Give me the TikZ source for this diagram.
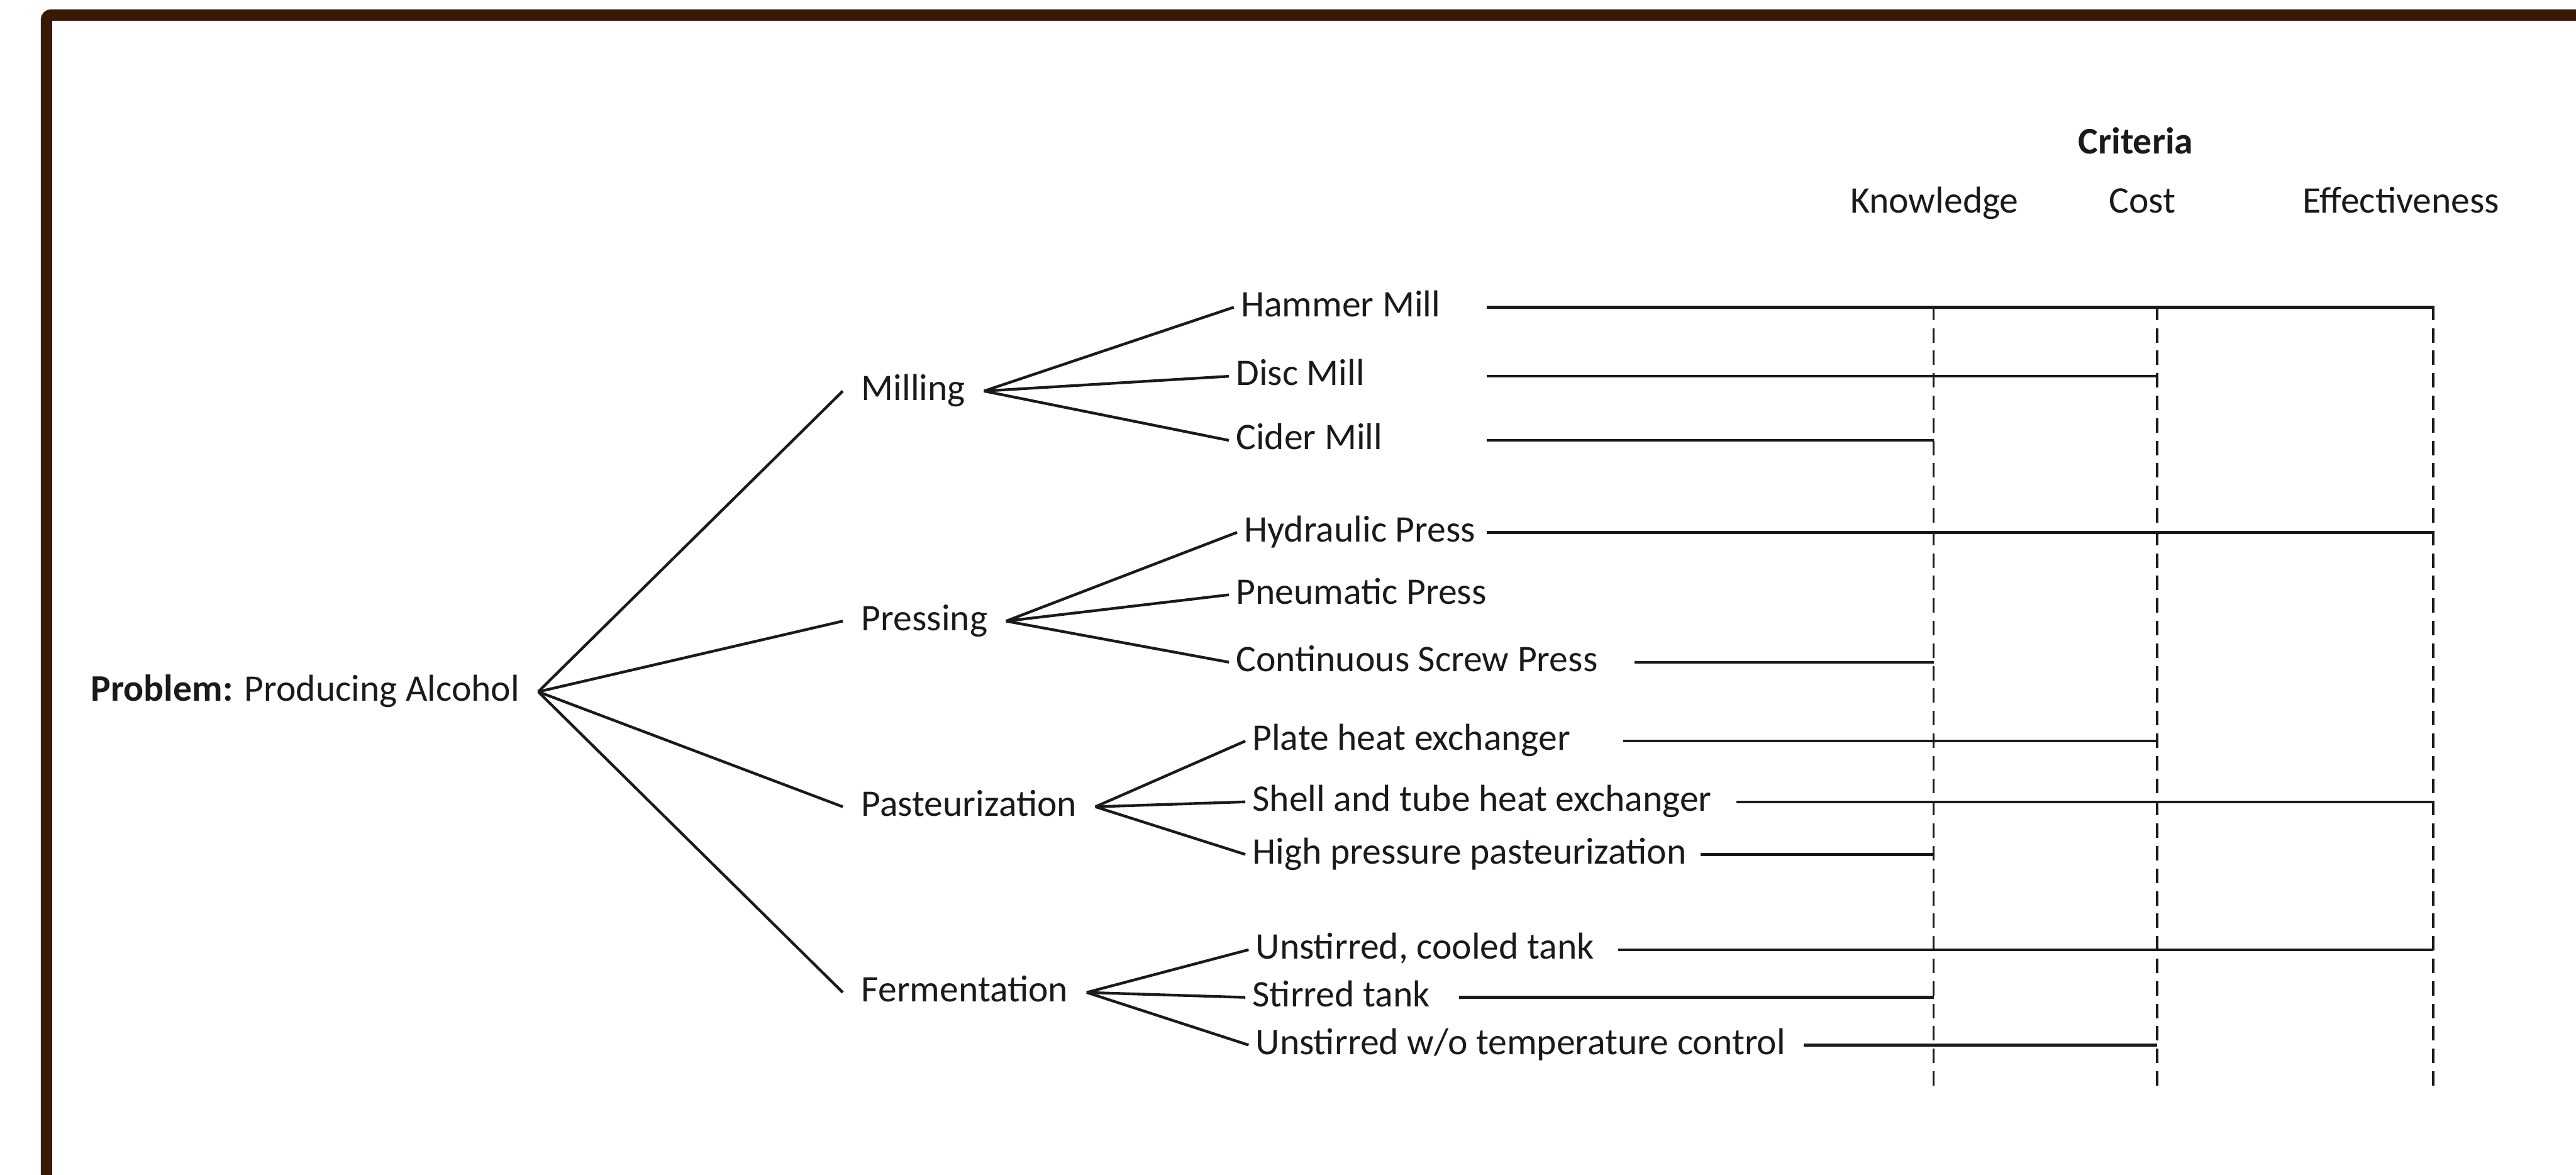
\documentclass[tikz,border=0pt]{standalone}
\usepackage{fontspec}
\setmainfont{Carlito}
\usetikzlibrary{positioning}
\definecolor{Frame}{HTML}{3A1808}
\definecolor{Ink}{HTML}{1A1A1A}

\begin{document}
\begin{tikzpicture}[
    x=0.02cm, y=-0.02cm,
    lbl/.style={inner ysep=0pt, inner xsep=0.08cm, font=\fontsize{13}{15}\selectfont, text=Ink, text height=0.64em, text depth=0pt, anchor=west},
    catlbl/.style={lbl, inner xsep=0.22cm},
    critlbl/.style={lbl, anchor=center},
    branch/.style={draw=Ink, line width=0.95pt},
    guide/.style={draw=Ink, line width=0.75pt, dash pattern=on 5pt off 2.8pt}
]
\useasboundingbox (0,0) rectangle (1568,715);
\draw[Frame, line width=3.9pt, rounded corners=1.5pt] (28.3,800) -- (28.3,9.2) -- (1650,9.2);

\node[catlbl] (prob) at (44,421) {\textbf{Problem:} Producing Alcohol};

\node[catlbl] (mill) at (513,238) {Milling};
\node[catlbl] (press) at (513,378) {Pressing};
\node[catlbl] (past) at (513,491) {Pasteurization};
\node[catlbl] (ferm) at (513,604) {Fermentation};

\node[lbl] (ham) at (751,187) {Hammer Mill};
\node[lbl] (disc) at (748,229) {Disc Mill};
\node[lbl] (cider) at (748,268) {Cider Mill};
\node[lbl] (hyd) at (753,324) {Hydraulic Press};
\node[lbl] (pneu) at (748,362) {Pneumatic Press};
\node[lbl] (cont) at (748,403) {Continuous Screw Press};
\node[lbl] (plate) at (758,451) {Plate heat exchanger};
\node[lbl] (shell) at (758,488) {Shell and tube heat exchanger};
\node[lbl] (high) at (758,520) {High pressure pasteurization};
\node[lbl] (ucool) at (760,578) {Unstirred, cooled tank};
\node[lbl] (stir) at (758,607) {Stirred tank};
\node[lbl] (uwo) at (760,636) {Unstirred w/o temperature control};

\node[critlbl, font=\fontsize{13}{15}\selectfont\bfseries] (crit) at (1300,88) {Criteria};
\node[critlbl] (know) at (1177.5,124) {Knowledge};
\node[critlbl] (cost) at (1304,124) {Cost};
\node[critlbl] (effect) at (1461.5,124) {Effectiveness};

\coordinate (kn) at (1177,186);
\coordinate (co) at (1313,186);
\coordinate (ef) at (1481,186);

\foreach \c in {mill,press,past,ferm}
    \draw[branch] (prob.east) -- (\c.west);
\foreach \c in {ham,disc,cider}
    \draw[branch] (mill.east) -- (\c.west);
\foreach \c in {hyd,pneu,cont}
    \draw[branch] (press.east) -- (\c.west);
\foreach \c in {plate,shell,high}
    \draw[branch] (past.east) -- (\c.west);
\foreach \c in {ucool,stir,uwo}
    \draw[branch] (ferm.east) -- (\c.west);

\foreach \k in {kn,co,ef}
    \draw[guide] (\k) -- ++(0,476);

\foreach \n/\sx/\k in {ham/905/ef, disc/905/co, cider/905/kn, hyd/905/ef, cont/995/kn, plate/988/co, shell/1057/ef, high/1035/kn, ucool/985/ef, stir/888/kn, uwo/1098/co}{
    \coordinate (st) at (\sx,0);
    \draw[branch] (st |- \n.west) -- (\k |- \n.west);
}
\end{tikzpicture}
\end{document}
